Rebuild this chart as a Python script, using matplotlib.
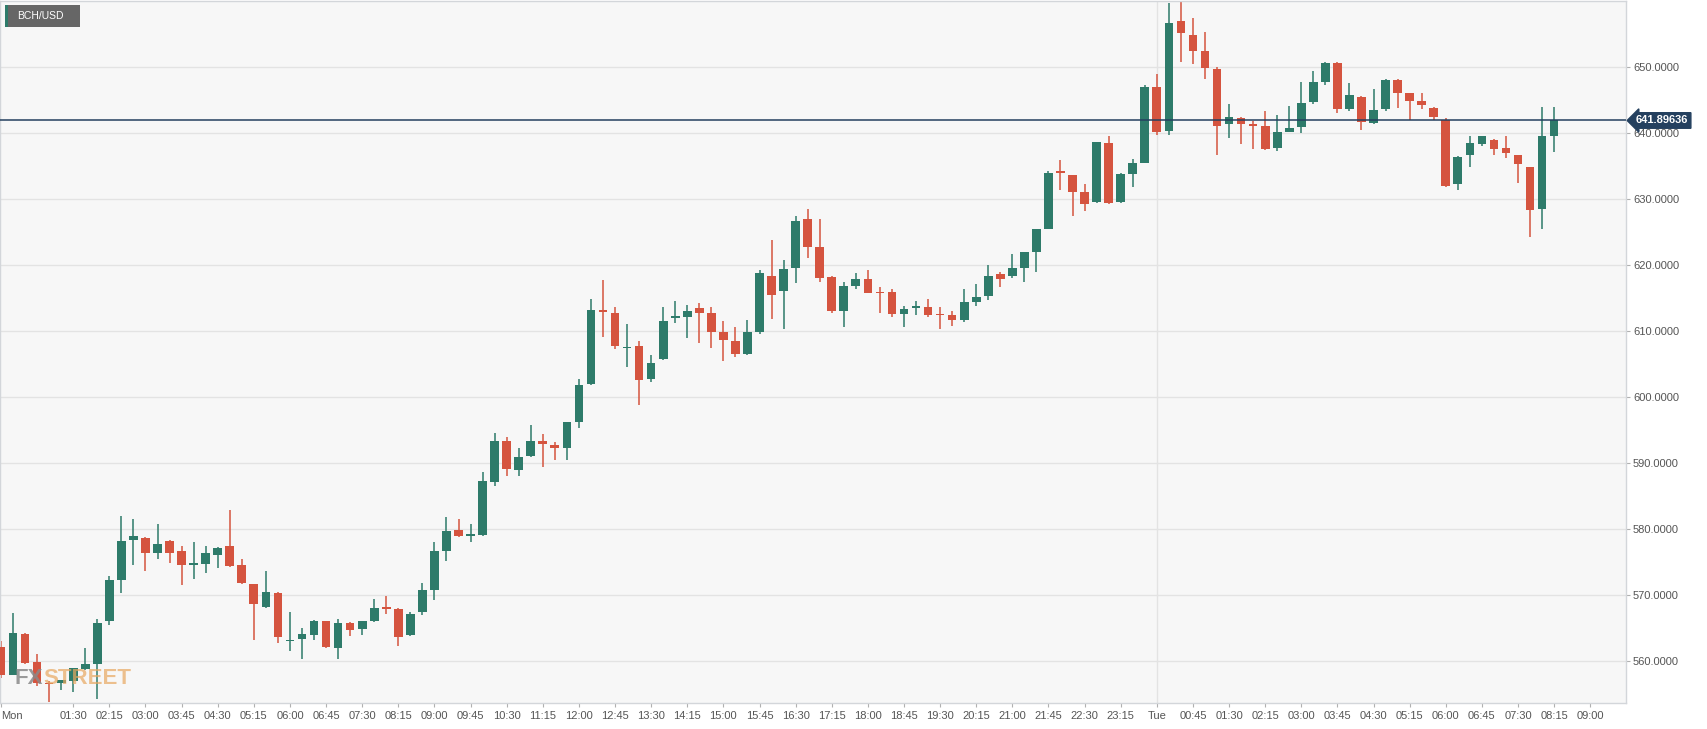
import matplotlib
matplotlib.use('Agg')
import matplotlib.pyplot as plt
from matplotlib.patches import Rectangle
import numpy as np

# BCH/USD 15-minute candles, Mon 00:00 -> Tue 08:15
opens = [562.2, 557.9, 564.1, 559.8, 556.7, 556.6, 557.0, 558.8, 559.6, 566.0,
         572.3, 578.3, 578.7, 576.3, 578.2, 576.6, 574.6, 574.7, 576.1, 577.4,
         574.5, 571.6, 568.2, 570.3, 563.0, 563.4, 564.0, 566.0, 561.9, 565.8,
         564.8, 566.0, 568.1, 567.9, 563.9, 567.4, 570.8, 576.6, 579.9, 579.0,
         579.1, 587.1, 593.3, 589.0, 591.0, 593.4, 592.7, 592.3, 596.2, 601.9,
         613.2, 612.7, 607.4, 607.7, 602.7, 605.7, 612.0, 612.1, 613.5, 612.7,
         609.9, 608.5, 606.5, 609.8, 618.3, 616.0, 619.5, 626.9, 622.7, 618.2,
         613.1, 616.8, 617.9, 615.8, 615.9, 612.6, 613.5, 613.7, 612.6, 612.4,
         611.7, 614.4, 615.3, 618.6, 618.4, 619.5, 622.0, 625.5, 634.2, 633.6,
         631.1, 629.5, 638.5, 629.5, 633.8, 635.5, 647.0, 640.3, 657.0, 654.8,
         652.4, 649.7, 641.4, 642.3, 641.3, 641.0, 637.7, 640.2, 640.9, 644.7,
         647.8, 650.6, 643.6, 645.5, 641.5, 643.6, 648.1, 646.0, 644.9, 643.8,
         642.0, 632.2, 636.6, 638.3, 639.0, 637.7, 636.6, 634.8, 628.5, 639.6]
highs = [563.0, 567.3, 564.2, 561.1, 556.9, 557.2, 558.9, 562.0, 566.3, 572.9,
         581.9, 581.5, 578.8, 580.7, 578.3, 577.5, 578.0, 577.4, 577.2, 582.9,
         575.5, 571.7, 573.7, 570.4, 567.4, 565.0, 566.2, 566.1, 566.4, 565.9,
         566.0, 569.4, 569.9, 568.0, 567.5, 571.8, 578.0, 581.8, 581.5, 580.8,
         588.7, 594.5, 593.9, 592.3, 595.8, 594.4, 593.2, 596.2, 602.8, 614.8,
         617.8, 613.7, 611.1, 608.5, 606.4, 613.7, 614.6, 614.0, 614.3, 613.7,
         611.5, 610.6, 611.7, 619.2, 623.8, 620.7, 627.5, 628.5, 626.9, 618.3,
         617.5, 618.8, 619.2, 616.7, 616.4, 613.8, 614.6, 614.8, 613.6, 613.1,
         616.4, 617.1, 620.0, 618.9, 621.6, 621.9, 625.5, 634.2, 635.9, 633.7,
         632.2, 638.7, 639.5, 634.0, 636.0, 647.3, 649.0, 659.7, 659.8, 657.4,
         655.3, 650.0, 644.4, 642.5, 641.8, 643.3, 642.8, 644.1, 647.8, 649.4,
         650.7, 650.7, 647.6, 645.6, 646.7, 648.2, 648.2, 646.1, 646.0, 643.9,
         642.3, 636.5, 639.6, 639.6, 639.1, 639.6, 636.7, 634.9, 644.0, 644.0]
lows = [557.5, 557.9, 559.5, 556.2, 553.8, 555.6, 555.3, 558.7, 554.3, 565.4,
        570.3, 574.5, 573.7, 575.4, 574.8, 571.5, 572.4, 573.3, 574.1, 574.3,
        571.7, 563.2, 568.1, 562.8, 561.5, 560.3, 563.2, 561.9, 560.3, 563.8,
        563.9, 565.9, 567.2, 562.3, 563.8, 567.0, 569.3, 575.1, 578.8, 578.1,
        578.9, 586.5, 588.1, 588.1, 590.9, 589.4, 590.4, 590.5, 595.3, 601.8,
        609.1, 607.3, 604.5, 598.8, 602.3, 605.6, 611.2, 608.9, 608.2, 607.4,
        605.4, 606.0, 606.4, 609.5, 611.8, 610.3, 617.2, 621.0, 617.5, 612.8,
        610.6, 616.3, 615.7, 612.7, 612.1, 610.6, 612.5, 612.1, 610.3, 610.7,
        611.3, 613.8, 614.7, 616.7, 618.0, 617.5, 619.0, 625.4, 631.3, 627.5,
        628.2, 629.4, 629.3, 629.4, 631.8, 635.4, 639.7, 639.7, 650.7, 650.4,
        648.2, 636.7, 639.2, 638.3, 637.6, 637.5, 637.2, 640.1, 640.0, 644.4,
        647.2, 643.1, 643.4, 640.5, 641.4, 643.3, 643.8, 642.0, 643.6, 642.0,
        631.8, 631.4, 634.8, 638.1, 636.7, 636.2, 632.5, 624.2, 625.4, 637.1]
closes = [557.9, 564.2, 559.7, 556.7, 556.5, 557.1, 558.9, 559.5, 565.8, 572.2,
          578.2, 579.0, 576.3, 577.8, 576.4, 574.6, 574.9, 576.3, 577.1, 574.4,
          571.8, 568.6, 570.4, 563.7, 563.2, 564.1, 566.1, 562.1, 565.7, 564.7,
          566.0, 568.0, 567.9, 563.6, 567.1, 570.8, 576.6, 579.7, 579.0, 579.2,
          587.2, 593.3, 589.1, 590.9, 593.4, 592.9, 592.3, 596.2, 601.8, 613.2,
          612.9, 607.8, 607.5, 602.6, 605.1, 611.5, 612.2, 613.1, 612.7, 609.9,
          608.6, 606.5, 609.8, 618.8, 615.5, 619.4, 626.6, 622.7, 618.0, 613.0,
          616.8, 617.9, 615.8, 615.7, 612.6, 613.4, 613.7, 612.5, 612.4, 611.6,
          614.4, 615.2, 618.4, 617.9, 619.5, 621.9, 625.5, 634.0, 633.9, 631.0,
          629.3, 638.6, 629.4, 633.8, 635.4, 646.9, 640.2, 656.7, 655.2, 652.4,
          649.9, 641.1, 642.4, 641.4, 641.0, 637.6, 640.1, 640.8, 644.6, 647.8,
          650.6, 643.7, 645.8, 641.6, 643.5, 648.1, 646.1, 644.9, 644.3, 642.5,
          631.9, 636.4, 638.5, 639.5, 637.6, 637.0, 635.3, 628.4, 639.6, 641.89636]

last_price = 641.89636
symbol = "BCH/USD"
y_ticks = [560, 570, 580, 590, 600, 610, 620, 630, 640, 650]
bar_minutes = 15
tick_every = 3          # one label every 45 minutes
day_names = ["Mon", "Tue"]

UP = '#2e7b6a'
DOWN = '#d5543f'
GRID = '#e3e3e3'
NAVY = '#24405f'

o = np.array(opens)
h = np.array(highs)
l = np.array(lows)
c = np.array(closes)
idx = np.arange(len(o))
up = c >= o
colors = np.where(up, UP, DOWN)

fig = plt.figure(figsize=(17.07, 7.29), dpi=100)
fig.patch.set_facecolor('white')
ax = fig.add_axes([0.0, 26 / 729, 1626 / 1707, 702 / 729])
ax.set_facecolor('#f7f7f7')

# grid + day separator
for v in y_ticks:
    ax.axhline(v, color=GRID, lw=1, zorder=0)
ax.axvline(24 * 60 / bar_minutes, color=GRID, lw=1, zorder=0)

# candles
ax.vlines(idx, l, h, colors=colors, lw=1.1, zorder=2)
body_lo = np.minimum(o, c)
body_h = np.maximum(np.abs(c - o), 0.22)
ax.bar(idx, body_h, bottom=body_lo, width=0.72, color=colors, lw=0, zorder=3)

# last price line + label
ax.axhline(last_price, color=NAVY, lw=1.1, zorder=4)
ax.annotate('%.5f' % last_price, xy=(1.0, last_price), xycoords=('axes fraction', 'data'),
            xytext=(7, 0), textcoords='offset points', ha='left', va='center',
            color='white', fontsize=8, fontweight='bold', family='Liberation Sans',
            bbox=dict(boxstyle='larrow,pad=0.25', fc=NAVY, ec=NAVY), annotation_clip=False)

ax.set_xlim(-0.083, 134.97)
ax.set_ylim(553.64, 660.0)

# x ticks every 45 min, label 00:00 with day name
last_tick = (24 + 9) * 60 // bar_minutes
xt = [t for t in range(0, last_tick + 1, tick_every) if t != tick_every]
xl = []
for t in xt:
    mins = t * bar_minutes
    if mins % (24 * 60) == 0:
        xl.append(day_names[mins // (24 * 60)])
    else:
        xl.append('%02d:%02d' % ((mins // 60) % 24, mins % 60))
ax.set_xticks(xt)
ax.set_xticklabels(xl)
ax.get_xticklabels()[0].set_ha('left')

ax.yaxis.tick_right()
ax.set_yticks(y_ticks)
ax.set_yticklabels(['%.4f' % v for v in y_ticks])
ax.tick_params(axis='x', length=3, pad=3, color='#b0b0b0', labelcolor='#555555', labelsize=8)
ax.tick_params(axis='y', length=3, pad=2, color='#b0b0b0', labelcolor='#555555', labelsize=8)
for lab in ax.get_xticklabels() + ax.get_yticklabels():
    lab.set_family('Liberation Sans')

for s in ax.spines.values():
    s.set_color('#d3d6da')
    s.set_linewidth(1)

# symbol tag top left
fig.add_artist(Rectangle((5 / 1707, 1 - 27 / 729), 75 / 1707, 22 / 729,
                         transform=fig.transFigure, fc='#666666', ec='none', zorder=10))
fig.add_artist(Rectangle((5 / 1707, 1 - 27 / 729), 3 / 1707, 22 / 729,
                         transform=fig.transFigure, fc=UP, ec='none', zorder=11))
fig.text(17 / 1707, 1 - 16 / 729, symbol, color='white', fontsize=7.5,
         family='Liberation Sans', va='center', ha='left', zorder=12)

# watermark, "STREET" placed right after "FX"
wm_font = dict(fontsize=16, fontweight='bold', family='Liberation Sans',
               ha='left', va='baseline', zorder=5)
fx = fig.text(14 / 1707, 1 - 684 / 729, 'FX', color='#8a8a8a', alpha=0.85, **wm_font)
fig.canvas.draw()
bb = fx.get_window_extent()
fig.text(bb.x1 / 1707 + 1 / 1707, 1 - 684 / 729, 'STREET', color='#e8a860', alpha=0.7, **wm_font)

fig.savefig('out.png', dpi=100, facecolor='white')
